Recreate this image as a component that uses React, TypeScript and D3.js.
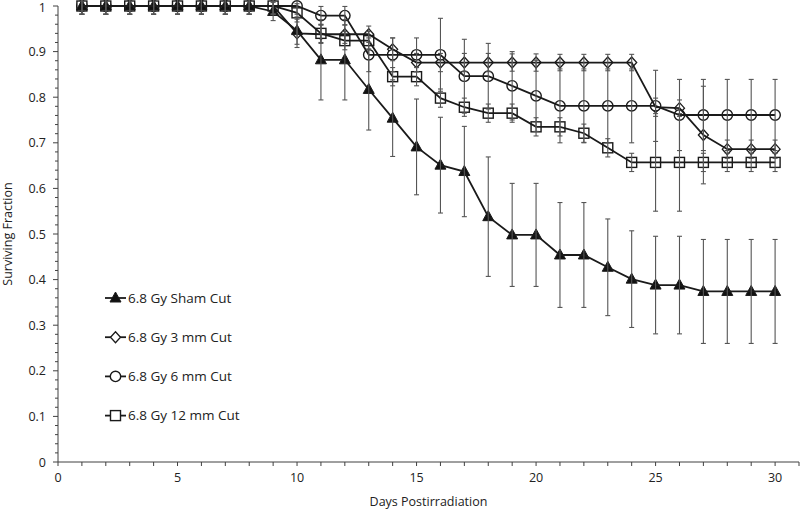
import React from "react";
import * as d3 from "d3";

const days = [1,2,3,4,5,6,7,8,9,10,11,12,13,14,15,16,17,18,19,20,21,22,23,24,25,26,27,28,29,30];

const shamValues = [1,1,1,1,1,1,1,1,0.988,0.946,0.882,0.882,0.817,0.754,0.691,0.651,0.637,0.538,0.498,0.498,0.454,0.454,0.427,0.401,0.388,0.388,0.374,0.374,0.374,0.374];
const shamErrors = [0.018,0.018,0.018,0.018,0.018,0.018,0.018,0.018,0.02,0.03,0.088,0.088,0.089,0.084,0.105,0.105,0.099,0.131,0.113,0.113,0.115,0.115,0.106,0.106,0.107,0.107,0.114,0.114,0.114,0.114];

const mm3Values = [1,1,1,1,1,1,1,1,1,0.94,0.938,0.938,0.938,0.905,0.876,0.876,0.876,0.876,0.876,0.876,0.876,0.876,0.876,0.876,0.778,0.776,0.717,0.686,0.686,0.686];
const mm3Errors = [0.018,0.018,0.018,0.018,0.018,0.018,0.018,0.018,0.018,0.031,0.02,0.02,0.018,0.025,0.02,0.02,0.02,0.02,0.019,0.019,0.018,0.018,0.018,0.018,0.02,0.018,0.107,0.02,0.02,0.02];

const mm6Values = [1,1,1,1,1,1,1,1,1,1,0.979,0.979,0.893,0.893,0.893,0.893,0.846,0.846,0.825,0.803,0.781,0.781,0.781,0.781,0.781,0.761,0.761,0.761,0.761,0.761];
const mm6Errors = [0.018,0.018,0.018,0.018,0.018,0.018,0.018,0.018,0.018,0.018,0.02,0.02,0.037,0.037,0.037,0.08,0.081,0.072,0.075,0.078,0.081,0.081,0.081,0.081,0.078,0.078,0.078,0.078,0.078,0.078];

const mm12Values = [1,1,1,1,1,1,1,1,1,0.985,0.94,0.924,0.924,0.845,0.845,0.798,0.778,0.765,0.765,0.735,0.735,0.721,0.689,0.657,0.657,0.657,0.657,0.657,0.657,0.657];
const mm12Errors = [0.018,0.018,0.018,0.018,0.018,0.018,0.018,0.018,0.018,0.02,0.02,0.02,0.02,0.02,0.02,0.02,0.02,0.02,0.02,0.02,0.02,0.02,0.02,0.02,0.107,0.107,0.02,0.02,0.02,0.02];

const seriesNames = ["6.8 Gy Sham Cut", "6.8 Gy 3 mm Cut", "6.8 Gy 6 mm Cut", "6.8 Gy 12 mm Cut"];
const seriesShapes = ["triangle", "diamond", "circle", "square"];

const xTickLabels = [0, 5, 10, 15, 20, 25, 30];
const yTickLabels = [0, 0.1, 0.2, 0.3, 0.4, 0.5, 0.6, 0.7, 0.8, 0.9, 1];

const xTitle = "Days Postirradiation";
const yTitle = "Surviving Fraction";

const FONT = "'Open Sans', 'Noto Sans', sans-serif";

function Marker({ shape, cx, cy }: { shape: string; cx: number; cy: number }) {
  const stroke = "#1a1a1a";
  if (shape === "triangle") {
    const p = d3.path();
    p.moveTo(cx, cy - 6);
    p.lineTo(cx + 5.5, cy + 4);
    p.lineTo(cx - 5.5, cy + 4);
    p.closePath();
    return <path d={p.toString()} fill="#111" stroke={stroke} strokeWidth={1} />;
  }
  if (shape === "diamond") {
    const p = d3.path();
    p.moveTo(cx, cy - 5.5);
    p.lineTo(cx + 5, cy);
    p.lineTo(cx, cy + 5.5);
    p.lineTo(cx - 5, cy);
    p.closePath();
    return <path d={p.toString()} fill="#fff" stroke={stroke} strokeWidth={1.3} />;
  }
  if (shape === "circle") {
    return <circle cx={cx} cy={cy} r={5.2} fill="#fff" stroke={stroke} strokeWidth={1.4} />;
  }
  return <rect x={cx - 5} y={cy - 5} width={10} height={10} fill="#fff" stroke={stroke} strokeWidth={1.4} />;
}

export default function App() {
  const W = 800, H = 512;
  const x = d3.scaleLinear().domain([0, 31]).range([58, 799]);
  const y = d3.scaleLinear().domain([0, 1]).range([462, 6]);

  const values = [shamValues, mm3Values, mm6Values, mm12Values];
  const errors = [shamErrors, mm3Errors, mm6Errors, mm12Errors];

  const line = d3.line<number>().x((_, i) => x(days[i])).y((v) => y(v));

  const xMinor = d3.range(0, 32, 1);
  const yMinor = d3.range(0, 1.0001, 0.02);

  const drawOrder = [1, 2, 3, 0];

  return (
    <svg width={W} height={H} style={{ position: "absolute", left: 0, top: 0, background: "#fff" }} fontFamily={FONT}>
      <rect x={0} y={0} width={W} height={H} fill="#fff" />
      <g stroke="#404040" strokeWidth={1}>
        <line x1={x(0)} x2={x(31)} y1={y(0)} y2={y(0)} />
        <line x1={x(0)} x2={x(0)} y1={y(0)} y2={y(1)} />
        {xMinor.map((t) => (
          <line key={"xt" + t} x1={x(t)} x2={x(t)} y1={y(0)} y2={y(0) + 4} />
        ))}
        {yMinor.map((t, i) => (
          <line key={"yt" + i} x1={x(0) - (i % 5 === 0 ? 5 : 3)} x2={x(0)} y1={y(t)} y2={y(t)} />
        ))}
      </g>
      <g fontSize={12.5} fill="#222">
        {xTickLabels.map((t) => (
          <text key={"xl" + t} x={x(t)} y={482} textAnchor="middle">{t}</text>
        ))}
        {yTickLabels.map((t) => (
          <text key={"yl" + t} x={46} y={Math.max(y(t) + 4.5, 12)} textAnchor="end">{t}</text>
        ))}
        <text x={(x(0) + x(31)) / 2} y={506} textAnchor="middle">{xTitle}</text>
        <text transform={`translate(12,${(y(0) + y(1)) / 2}) rotate(-90)`} textAnchor="middle">{yTitle}</text>
      </g>
      {drawOrder.map((s) => (
        <g key={"m" + s}>
          {values[s].map((v, i) => (
            <Marker key={i} shape={seriesShapes[s]} cx={x(days[i])} cy={y(v)} />
          ))}
        </g>
      ))}
      {drawOrder.map((s) => (
        <path key={"l" + s} d={line(values[s]) || ""} fill="none" stroke="#1a1a1a" strokeWidth={1.8} />
      ))}
      <g stroke="#555" strokeWidth={1.1}>
        {drawOrder.map((s) =>
          values[s].map((v, i) => {
            const cx = x(days[i]);
            const y1 = y(v + errors[s][i]);
            const y2 = y(v - errors[s][i]);
            return (
              <g key={s + "-" + i}>
                <line x1={cx} x2={cx} y1={y1} y2={y2} />
                <line x1={cx - 2.5} x2={cx + 2.5} y1={y1} y2={y1} />
                <line x1={cx - 2.5} x2={cx + 2.5} y1={y2} y2={y2} />
              </g>
            );
          })
        )}
      </g>
      <g>
        {seriesNames.map((name, k) => {
          const ly = 298 + k * 39.2;
          return (
            <g key={"lg" + k}>
              <line x1={105} x2={126} y1={ly} y2={ly} stroke="#1a1a1a" strokeWidth={1.8} />
              <Marker shape={seriesShapes[k]} cx={115.5} cy={ly} />
              <text x={128} y={ly + 4.8} fontSize={13.5} fill="#222">{name}</text>
            </g>
          );
        })}
      </g>
    </svg>
  );
}
